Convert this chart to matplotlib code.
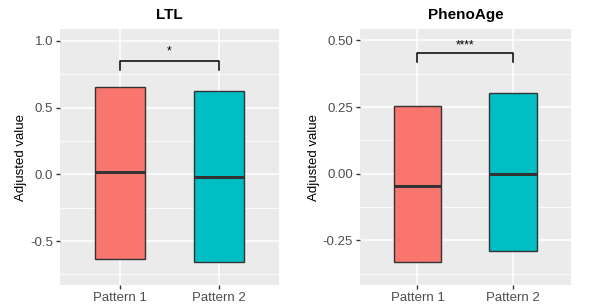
import matplotlib.pyplot as plt
import numpy as np

plt.rcParams['font.family'] = ['Liberation Sans', 'DejaVu Sans']

groups = ["Pattern 1", "Pattern 2"]
colors = ["#F8766D", "#00BFC4"]

# LTL box stats (q1, median, q3)
ltl_q1 = [-0.632, -0.654]
ltl_med = [0.017, -0.020]
ltl_q3 = [0.651, 0.621]

# PhenoAge box stats
pa_q1 = [-0.329, -0.288]
pa_med = [-0.045, 0.0]
pa_q3 = [0.254, 0.301]

panels = [
    dict(title="LTL", q1=ltl_q1, med=ltl_med, q3=ltl_q3,
         ylim=(-0.829, 1.0875), major=[-0.5, 0.0, 0.5, 1.0],
         minor=[-0.75, -0.25, 0.25, 0.75], fmt="{:.1f}",
         bracket=(0.78, 0.85), star_y=0.92, star="*",
         pos=[0.0997, 0.0747, 0.3638, 0.831], ylab_x=-0.15),
    dict(title="PhenoAge", q1=pa_q1, med=pa_med, q3=pa_q3,
         ylim=(-0.417, 0.5426), major=[-0.25, 0.0, 0.25, 0.5],
         minor=[-0.375, -0.125, 0.125, 0.375], fmt="{:.2f}",
         bracket=(0.419, 0.451), star_y=0.482, star="****",
         pos=[0.598, 0.0747, 0.350, 0.831], ylab_x=-0.19),
]

fig = plt.figure(figsize=(6.02, 3.08), dpi=100)
fig.patch.set_facecolor("white")

for p in panels:
    ax = fig.add_axes(p["pos"])
    ax.set_facecolor("#EBEBEB")
    for s in ax.spines.values():
        s.set_visible(False)

    stats = []
    for i in range(2):
        stats.append(dict(med=p["med"][i], q1=p["q1"][i], q3=p["q3"][i],
                          whislo=p["q1"][i], whishi=p["q3"][i], fliers=[]))
    bp = ax.bxp(stats, positions=[1, 2], widths=0.5, patch_artist=True,
                showcaps=False, showfliers=False,
                medianprops=dict(color="#333333", linewidth=2.2),
                whiskerprops=dict(linewidth=0),
                boxprops=dict(edgecolor="#333333", linewidth=1.0))
    for patch, c in zip(bp["boxes"], colors):
        patch.set_facecolor(c)
        patch.set_zorder(3)
    for m in bp["medians"]:
        m.set_zorder(4)

    ax.set_xlim(0.4, 2.6)
    ax.set_ylim(*p["ylim"])
    ax.set_xticks([1, 2])
    ax.set_xticklabels(groups)
    ax.set_yticks(p["major"])
    ax.set_yticklabels([p["fmt"].format(v) for v in p["major"]])
    ax.set_yticks(p["minor"], minor=True)
    ax.tick_params(axis="both", which="major", length=3, width=1, color="#333333",
                   labelsize=9.5, labelcolor="#4D4D4D", pad=2)
    ax.tick_params(axis="y", which="minor", length=0)
    ax.set_axisbelow(True)
    ax.grid(True, which="major", color="white", linewidth=1.1)
    ax.grid(True, which="minor", axis="y", color="white", linewidth=0.55)

    ax.set_title(p["title"], fontsize=11, fontweight="bold", pad=7)
    ax.set_ylabel("Adjusted value", fontsize=9.5, color="black")
    ax.yaxis.set_label_coords(p["ylab_x"], 0.5)

    lo, hi = p["bracket"]
    ax.plot([1, 1, 2, 2], [lo, hi, hi, lo], color="black", linewidth=1.1, zorder=5)
    ax.text(1.5, p["star_y"], p["star"], ha="center", va="center", fontsize=8.5)

fig.savefig("out.png", dpi=100)
